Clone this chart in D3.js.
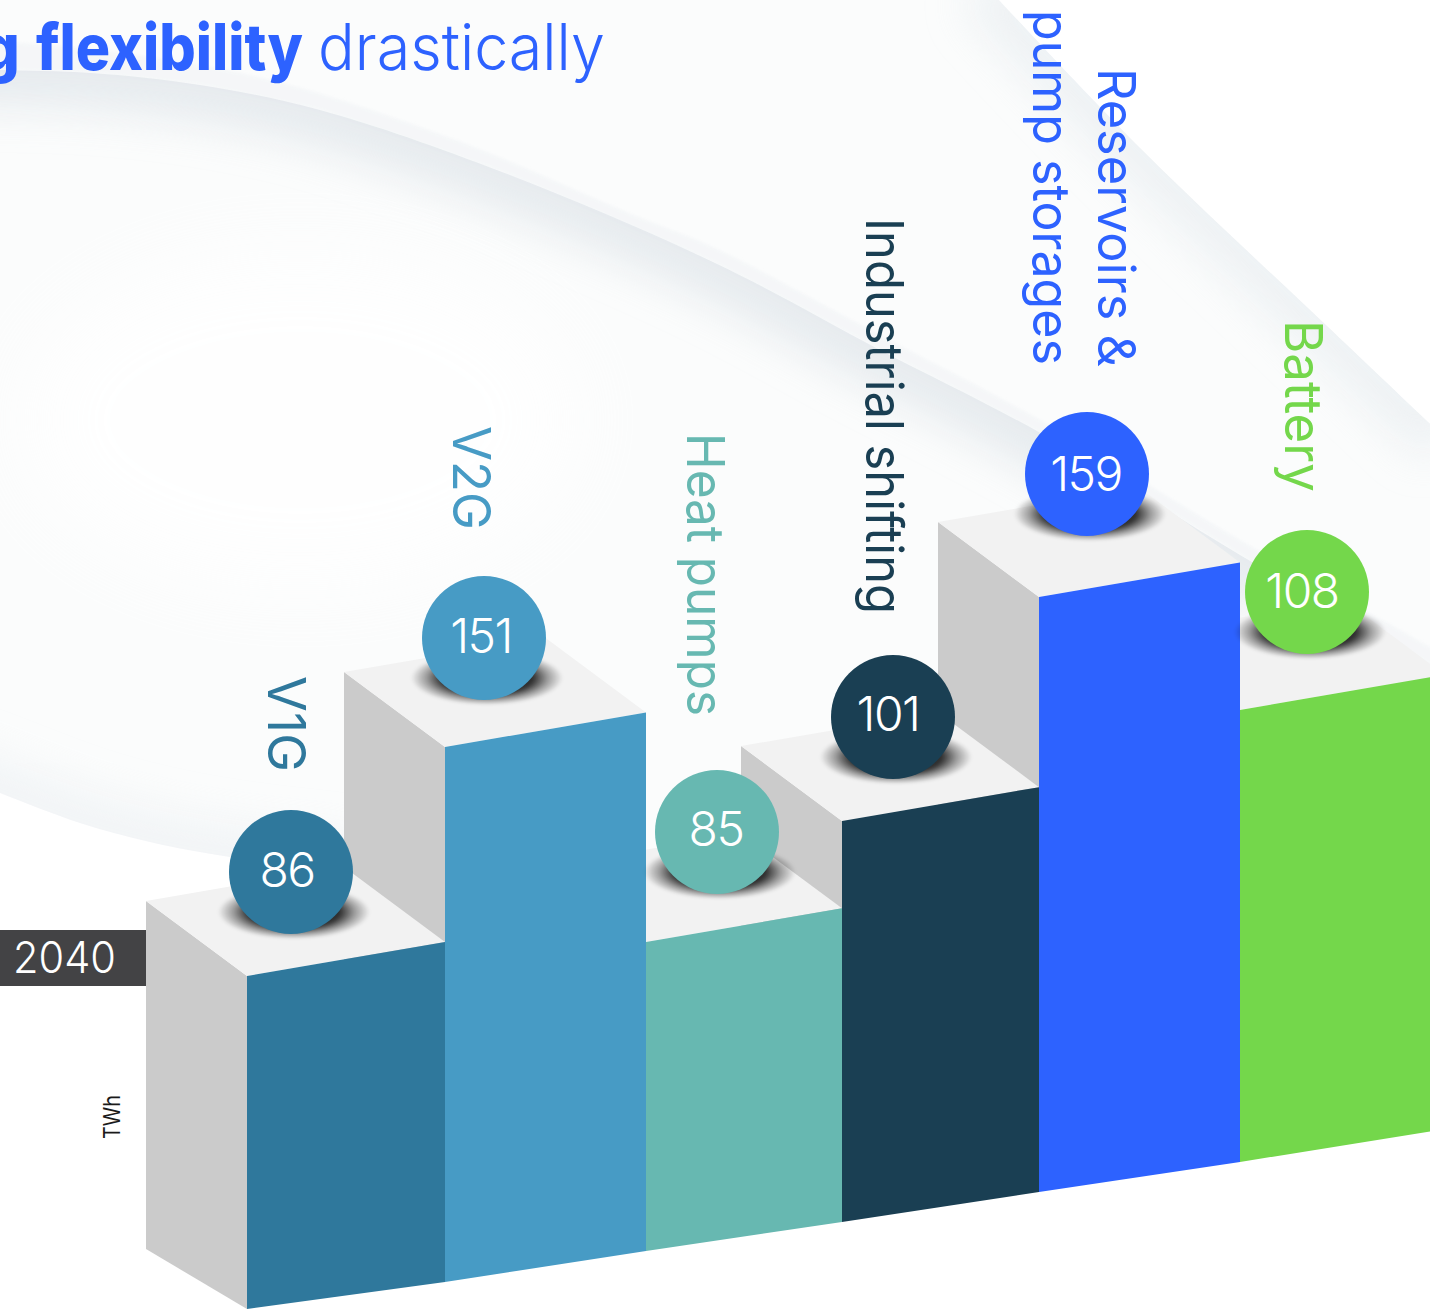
<!DOCTYPE html>
<html><head><meta charset="utf-8">
<script src="https://cdnjs.cloudflare.com/ajax/libs/d3/7.8.5/d3.min.js"></script>
<style>html,body{margin:0;padding:0;background:#fff;overflow:hidden}svg{display:block}text{font-family:Inter,"Noto Sans",sans-serif}</style>
</head><body><div id="c"></div>
<script>
const categories = ["V1G","V2G","Heat pumps","Industrial shifting","Reservoirs & pump storages","Battery"];
const values = [86,151,85,101,159,108];
const colors = ["#2f789c","#479bc5","#67b8b1","#1a3f53","#2d62ff","#74d74b"];
const labelLines = [["V1G"],["V2G"],["Heat pumps"],["Industrial shifting"],["Reservoirs &","pump storages"],["Battery"]];
const yearLabel = "2040";
const unitLabel = "TWh";

const W=1430,H=1309;
const svg=d3.select("#c").append("svg").attr("width",W).attr("height",H);
const defs=svg.append("defs");
[["b40",40],["b22",22],["b2",2],["b1",1.5]].forEach(([id,s])=>defs.append("filter").attr("id",id)
  .attr("filterUnits","userSpaceOnUse").attr("x",-200).attr("y",-200).attr("width",2000).attr("height",1800)
  .append("feGaussianBlur").attr("stdDeviation",s));
const sg=defs.append("radialGradient").attr("id","shade");
sg.append("stop").attr("offset","0.6").attr("stop-color","#000").attr("stop-opacity",.8);
sg.append("stop").attr("offset","0.8").attr("stop-color","#000").attr("stop-opacity",.35);
sg.append("stop").attr("offset","1").attr("stop-color","#000").attr("stop-opacity",0);

/* scales */
const edge=d3.scaleLinear().domain(d3.range(7)).range([247,445,646,842,1039,1240,1445]);
const base=d3.scaleLinear().domain(d3.range(7)).range([1309,1282,1251,1222,1192,1162,1129]);
const sorted=[85,86,101,108,151,159];
const height=d3.scaleLinear().domain(sorted).range([309,333,401,452,535,595]);
const ballX=d3.scaleOrdinal(categories,[291,484,717,893,1087,1307]);
const ballY=d3.scaleOrdinal(categories,[872,638,832,717,474,592]);
const numDx=d3.scaleOrdinal(categories,[-4,-3,-1,-5,-1,-5]);
const numDy=d3.scaleOrdinal(categories,[15,15,14,14,17,16]);
const labelX=d3.scaleOrdinal(categories,[268,453,687,866,1098,1285]);
const labelY=d3.scaleOrdinal(categories,[676,426,433,218,68,320]);
const labelLen=d3.scaleOrdinal(categories,[96,104,283,396,299,172]);
const skew=d3.scaleLinear().domain([0,198]).range([0,34]);
const depth={x:101,y:76,yBase:60};

/* background */
const line=d3.line().curve(d3.curveCatmullRom.alpha(.5));
const bg=svg.append("g");
bg.append("rect").attr("width",W).attr("height",H).attr("fill","#fbfcfc");
bg.append("ellipse").attr("cx",300).attr("cy",420).attr("rx",280).attr("ry",170).attr("fill","#fff").attr("opacity",.8).attr("filter","url(#b40)");
const w1out=[[-60,40],[50,45],[170,60],[283,83],[456,140],[639,217],[715,248],[880,335],[1044,422],[1240,540],[1430,647],[1500,690]];
const w1in=[[-60,69],[0,70],[91,73],[200,85],[320,110],[502,172],[715,263],[880,350],[1044,435],[1240,555],[1430,665],[1500,705]];
const w2=[[985,-15],[1135,143],[1327,326],[1445,438]];
const w3=[[-60,770],[0,793],[80,823],[150,842],[230,857],[360,872]];
const area=(pts,close)=>line(pts)+close;
defs.append("clipPath").attr("id","cw1").append("path").attr("d",area(w1in,"L1500,1000L-60,1000Z"));
defs.append("clipPath").attr("id","cw2").append("path").attr("d",area(w2,"L1445,1000L600,1000L600,-15Z"));
defs.append("clipPath").attr("id","cw3").append("path").attr("d",area(w3,"L360,500L-60,500Z"));
bg.append("path").attr("d",area(w3,"L360,1309L-60,1309Z")).attr("fill","#fff");
bg.append("g").attr("clip-path","url(#cw3)").append("path").attr("d",line(w3)).attr("fill","none")
  .attr("stroke","#e9eef2").attr("stroke-width",60).attr("opacity",.55).attr("filter","url(#b22)");
bg.append("path").attr("d",area(w2,"L1445,-15Z")).attr("fill","#fff");
bg.append("g").attr("clip-path","url(#cw2)").append("path").attr("d",line(w2)).attr("fill","none")
  .attr("stroke","#e4eaee").attr("stroke-width",60).attr("opacity",.6).attr("filter","url(#b22)");
bg.append("path").attr("d",line(w1out)+"L"+w1in.slice().reverse().map(p=>p.join(",")).join("L")+"Z").attr("fill","#f3f5f7").attr("opacity",.75).attr("filter","url(#b1)");
bg.append("g").attr("clip-path","url(#cw1)").append("path").attr("d",line(w1in)).attr("fill","none")
  .attr("stroke","#dde3e8").attr("stroke-width",70).attr("opacity",.7).attr("filter","url(#b22)");
bg.append("rect").attr("y",986).attr("width",W).attr("height",H-986).attr("fill","#fff");

/* bars, far right first */
const geo=categories.map((c,i)=>{
  const x0=edge(i),x1=edge(i+1),yl=base(i)-height(values[i]),yr=yl-skew(x1-x0);
  return {c,i,x0,x1,yl,yr,yb0:base(i),yb1:base(i+1)};
}).reverse();
const poly=p=>p.map(q=>q.join(",")).join(" ");
const bars=svg.append("g").selectAll("g").data(geo).join("g");
bars.append("polygon").attr("fill","#cbcbcb").attr("points",d=>poly([[d.x0-depth.x,d.yl-depth.y+1],[d.x0,d.yl],[d.x0,d.yb0],[d.x0-depth.x,d.yb0-depth.yBase]]));
bars.append("polygon").attr("fill","#f2f2f2").attr("points",d=>poly([[d.x0-depth.x,d.yl-depth.y+1],[d.x0,d.yl],[d.x1,d.yr],[d.x1-depth.x,d.yr-depth.y+1]]));
bars.append("polygon").attr("fill",d=>colors[d.i]).attr("points",d=>poly([[d.x0,d.yl],[d.x1,d.yr],[d.x1,d.yb1],[d.x0,d.yb0]]));

/* balls */
const balls=svg.append("g").selectAll("g").data(categories).join("g")
  .attr("transform",c=>`translate(${ballX(c)},${ballY(c)})`);
balls.append("ellipse").attr("cx",3).attr("cy",40).attr("rx",76).attr("ry",27).attr("fill","url(#shade)").attr("filter","url(#b1)");
balls.append("circle").attr("r",62).attr("fill",(c,i)=>colors[i]);
balls.append("text").attr("x",c=>numDx(c)).attr("y",c=>numDy(c)).attr("text-anchor","middle").attr("font-size",48).attr("font-weight",300).attr("letter-spacing",-1.5).attr("fill","#fff")
  .text((c,i)=>values[i]);

/* rotated labels */
const labs=svg.append("g").selectAll("g").data(categories).join("g");
labs.each(function(c,i){
  labelLines[i].forEach((t,j)=>{
    d3.select(this).append("text")
      .attr("transform",`translate(${labelX(c)-j*65},${labelY(c)-j*58}) rotate(90)`)
      .attr("font-size",52).attr("font-weight",400).attr("fill",colors[i])
      .attr("textLength",j===0?labelLen(c):355).attr("lengthAdjust","spacingAndGlyphs").text(t);
  });
});

/* title */
const title=svg.append("g").attr("fill","#2d62ff").attr("font-size",64);
[["g",-20,40,800],["flexibility",36,267,800],["drastically",318,287,300]].forEach(([t,x,l,w])=>{
  title.append("text").attr("x",x).attr("y",70).attr("font-weight",w).attr("textLength",l).attr("lengthAdjust","spacingAndGlyphs").text(t);
});

/* year tag and unit */
svg.append("rect").attr("y",930).attr("width",146).attr("height",56).attr("fill","#434345");
svg.append("text").attr("x",13).attr("y",973).attr("font-size",44).attr("font-weight",300).attr("fill","#fff").attr("textLength",103).attr("lengthAdjust","spacingAndGlyphs").text(yearLabel);
svg.append("text").attr("transform","translate(120,1139) rotate(-90)").attr("font-size",23).attr("font-weight",400).attr("fill","#1a1a1a").attr("textLength",44).attr("lengthAdjust","spacingAndGlyphs").text(unitLabel);
</script></body></html>
